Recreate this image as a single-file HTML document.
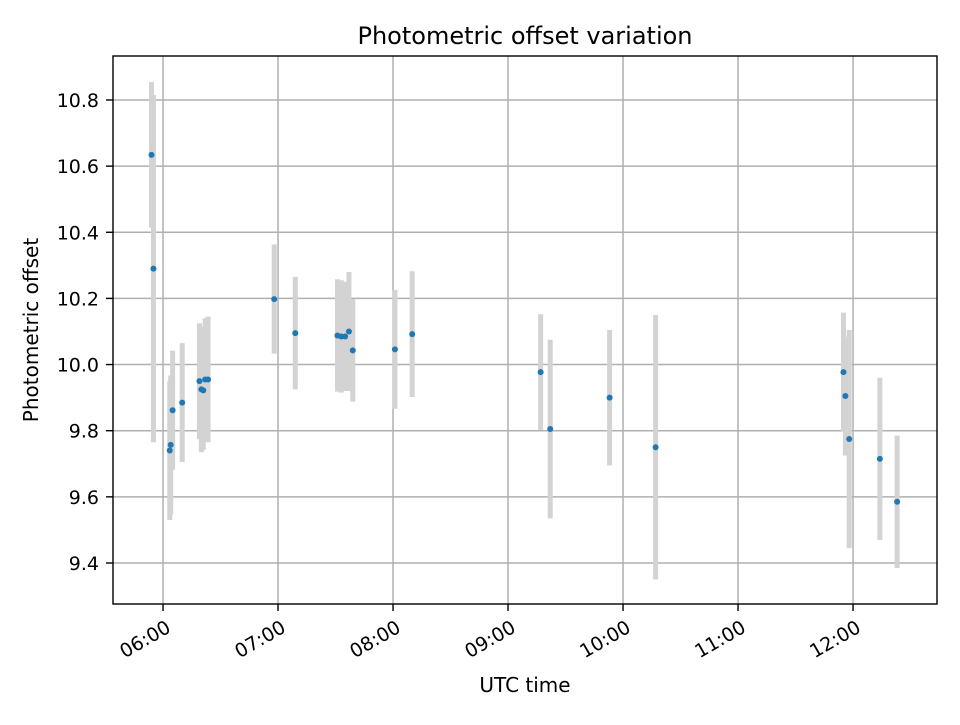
<!DOCTYPE html>
<html><head><meta charset="utf-8"><style>
body{margin:0;background:#fff}
svg text{font-family:"DejaVu Sans","Liberation Sans",sans-serif;fill:#000}
</style></head><body>
<svg id="chart" width="960" height="720" xmlns="http://www.w3.org/2000/svg">
<rect width="960" height="720" fill="#fff"/>
<text x="525" y="44" font-size="24" text-anchor="middle">Photometric offset variation</text>
<g id="grid"></g><g id="bars"></g><g id="pts"></g><g id="ticks"></g>
<rect x="113" y="56" width="824" height="548" fill="none" stroke="#000" stroke-width="1.4"/>
<text x="525" y="692" font-size="20" text-anchor="middle">UTC time</text>
<text transform="translate(38,330) rotate(-90)" font-size="20" text-anchor="middle">Photometric offset</text>
</svg>
<script>
const times=["05:54","05:55","06:03.5","06:04","06:05","06:10","06:19","06:20","06:21","06:22","06:23.5","06:58","07:09","07:31","07:33","07:35","07:37","07:39","08:01","08:10","09:17","09:22","09:53","10:17","11:55","11:56","11:58","12:14","12:23"];
const values=[10.634,10.29,9.74,9.757,9.862,9.885,9.95,9.925,9.922,9.955,9.955,10.198,10.095,10.088,10.085,10.085,10.1,10.043,10.046,10.092,9.977,9.805,9.9,9.75,9.977,9.905,9.775,9.715,9.585];
const errors=[0.22,0.525,0.21,0.21,0.18,0.18,0.175,0.19,0.18,0.185,0.19,0.165,0.17,0.17,0.17,0.165,0.18,0.155,0.18,0.19,0.175,0.27,0.205,0.4,0.18,0.18,0.33,0.245,0.2];
const yTicks=[9.4,9.6,9.8,10.0,10.2,10.4,10.6,10.8];
const xTicks=["06:00","07:00","08:00","09:00","10:00","11:00","12:00"];
const NS="http://www.w3.org/2000/svg";
const L=113,R=937,T=56,B=604;
const xMin=5.565,xMax=12.730,yMin=9.276,yMax=10.933;
function hrs(s){const p=s.split(":");return +p[0]+ (+p[1])/60;}
function X(h){return L+(h-xMin)/(xMax-xMin)*(R-L);}
function Y(v){return B-(v-yMin)/(yMax-yMin)*(B-T);}
function mk(tag,attrs,parent){const e=document.createElementNS(NS,tag);for(const k in attrs)e.setAttribute(k,attrs[k]);document.getElementById(parent).appendChild(e);return e;}
yTicks.forEach(v=>{
 const y=Y(v);
 const g=mk("line",{x1:L,x2:R,y1:y,y2:y,stroke:"#b0b0b0","stroke-width":1.5},"grid");
 
 
 const t=mk("line",{x1:L-7,x2:L,y1:y,y2:y,stroke:"#000","stroke-width":1.4},"ticks");
 
 
 const tx=mk("text",{x:L-14,y:y+7,"font-size":19,"text-anchor":"end"},"ticks");
 tx.textContent=v.toFixed(1);
 
 
});
xTicks.forEach(s=>{
 const x=X(hrs(s));
 const g=mk("line",{x1:x,x2:x,y1:T,y2:B,stroke:"#b0b0b0","stroke-width":1.5},"grid");
 
 
 const t=mk("line",{x1:x,x2:x,y1:B,y2:B+7,stroke:"#000","stroke-width":1.4},"ticks");
 
 
 const tx=mk("text",{x:0,y:14,"font-size":19,"text-anchor":"end",transform:`translate(${x+2},${B+15}) rotate(-30)`},"ticks");
 tx.textContent=s;
 
 
});
times.forEach((s,i)=>{
 const x=X(hrs(s));
 const b=mk("line",{x1:x,x2:x,y1:Y(values[i]+errors[i]),y2:Y(values[i]-errors[i]),stroke:"#d3d3d3","stroke-width":5},"bars");
 
 
});
times.forEach((s,i)=>{
 const p=mk("circle",{cx:X(hrs(s)),cy:Y(values[i]),r:3,fill:"#1f77b4"},"pts");
 
 
});
</script>
</body></html>
